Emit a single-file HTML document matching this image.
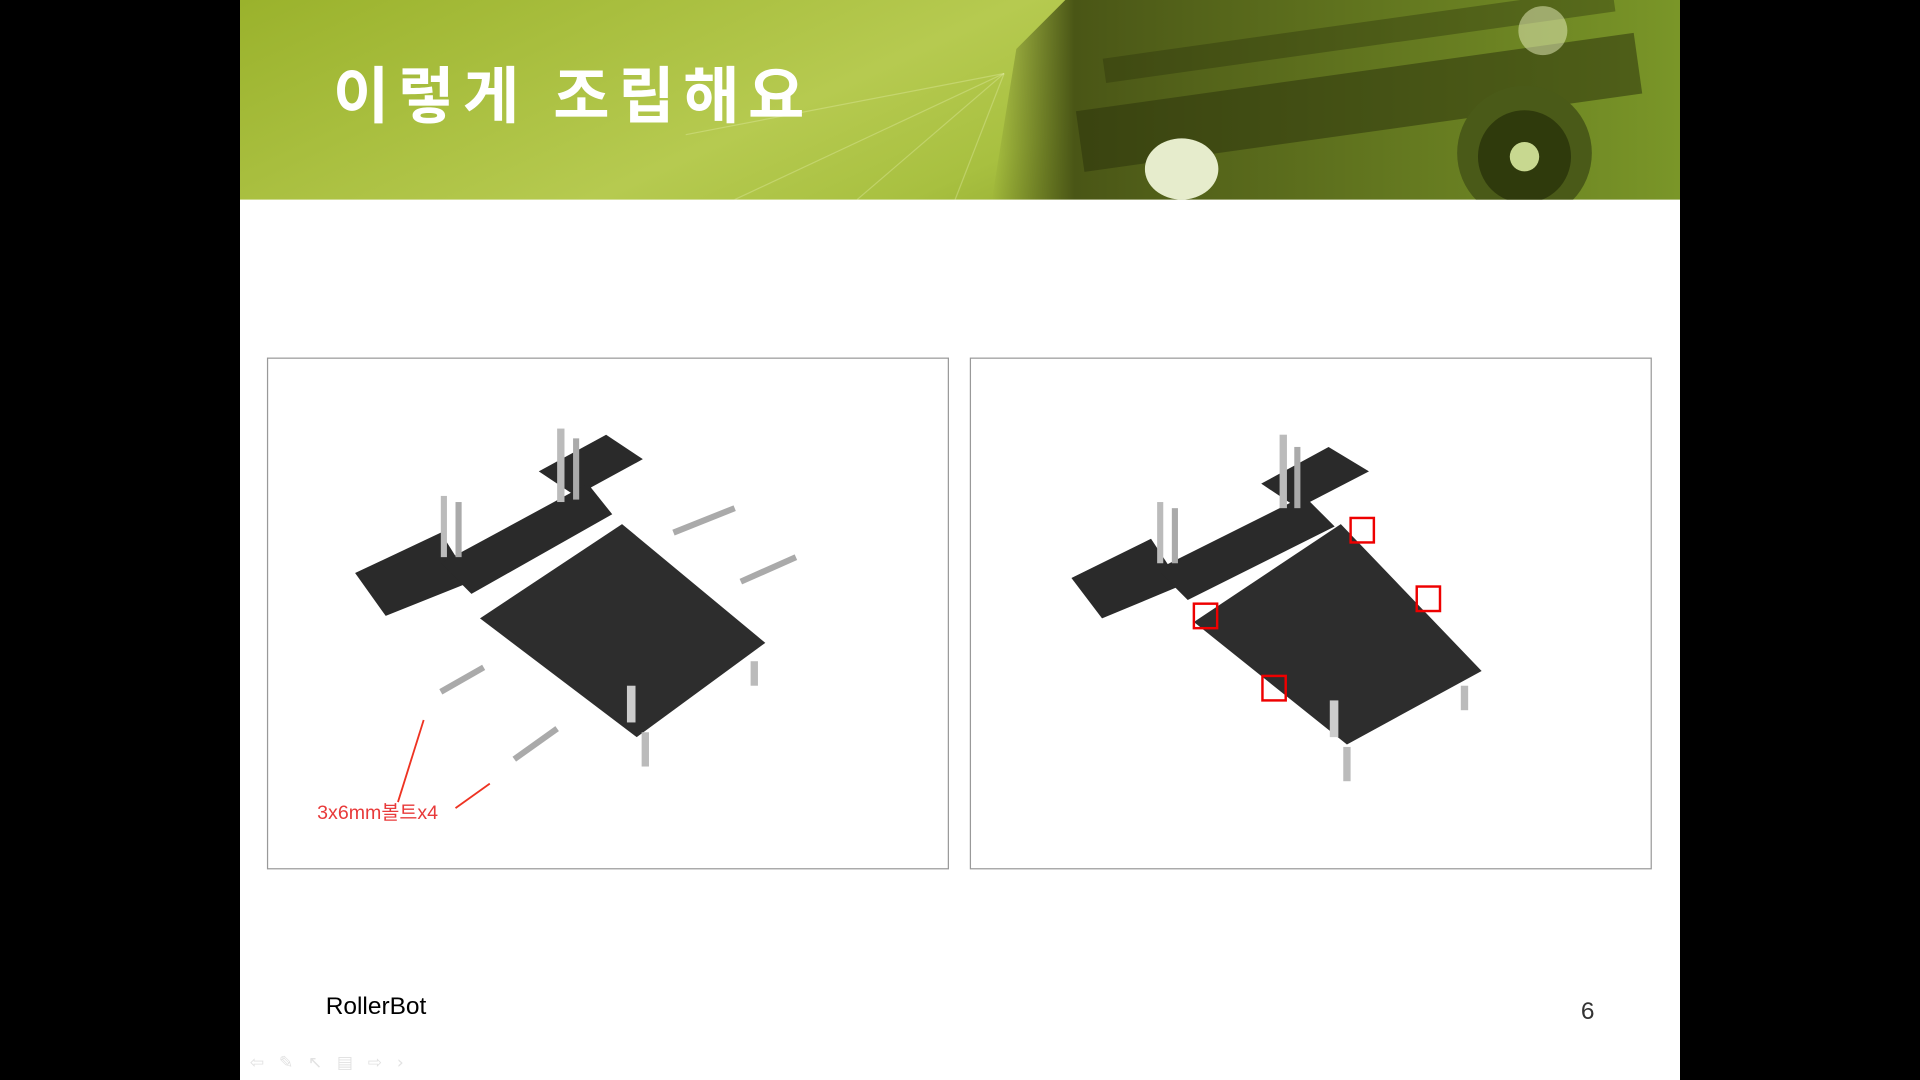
<!DOCTYPE html>
<html><head><meta charset="utf-8"><style>
html,body{margin:0;padding:0;background:#000;width:1920px;height:1080px;overflow:hidden}
svg{display:block}
</style></head><body>
<svg width="1920" height="1080" viewBox="0 0 1568 882" xmlns="http://www.w3.org/2000/svg">
<defs>
<linearGradient id="hg" x1="0" y1="0" x2="1" y2="0.3">
<stop offset="0" stop-color="#9ab22c"/><stop offset="0.5" stop-color="#b6ca50"/><stop offset="0.7" stop-color="#a8c040"/><stop offset="1" stop-color="#7d9420"/>
</linearGradient>
<linearGradient id="rg" x1="0" y1="0" x2="1" y2="0">
<stop offset="0" stop-color="#4a5514" stop-opacity="0"/><stop offset="0.12" stop-color="#4a5616"/><stop offset="1" stop-color="#7a9628"/>
</linearGradient>
<clipPath id="hc"><rect x="196" y="0" width="1176" height="163"/></clipPath>
</defs>
<rect x="196" y="0" width="1176" height="882" fill="#fff"/>
<rect x="196" y="0" width="1176" height="163" fill="url(#hg)"/>
<g stroke="#e8f0b0" stroke-opacity="0.35" stroke-width="1">
<line x1="820" y1="60" x2="600" y2="163"/><line x1="820" y1="60" x2="700" y2="163"/><line x1="820" y1="60" x2="780" y2="163"/><line x1="820" y1="60" x2="560" y2="110"/>
</g>
<g clip-path="url(#hc)">
<path d="M810 163 L830 40 L870 0 L1372 0 L1372 163 Z" fill="url(#rg)"/>
<rect x="880" y="60" width="460" height="50" fill="#2e350c" opacity="0.55" transform="rotate(-8 1100 85)"/>
<rect x="900" y="20" width="420" height="20" fill="#2e350c" opacity="0.4" transform="rotate(-8 1100 30)"/>
<circle cx="1245" cy="125" r="55" fill="#4a5a18"/>
<circle cx="1245" cy="128" r="38" fill="#2f3a0c"/>
<circle cx="1245" cy="128" r="12" fill="#c8d890"/>
<ellipse cx="965" cy="138" rx="30" ry="25" fill="#e6eccc"/>
<circle cx="1260" cy="25" r="20" fill="#e9f0c0" opacity="0.5"/>
</g>
<text x="272" y="96" font-family="'Liberation Sans','Noto Sans CJK KR',sans-serif" font-size="50" font-weight="bold" fill="#fff" letter-spacing="7">이렇게 조립해요</text>

<rect x="218.5" y="292.5" width="556" height="417" fill="#fff" stroke="#999" stroke-width="1"/>
<rect x="792.5" y="292.5" width="556" height="417" fill="#fff" stroke="#999" stroke-width="1"/>

<g>
<polygon points="290,468 360,435 385,475 315,503" fill="#2a2a2a"/>
<polygon points="440,385 495,355 525,375 470,405" fill="#2a2a2a"/>
<polygon points="360,460 480,395 500,420 385,485" fill="#2a2a2a"/>
<polygon points="392,505 508,428 625,525 520,602" fill="#2d2d2d"/>
<rect x="455" y="350" width="6" height="60" fill="#bbb"/><rect x="468" y="358" width="5" height="50" fill="#aaa"/>
<rect x="360" y="405" width="5" height="50" fill="#bbb"/><rect x="372" y="410" width="5" height="45" fill="#aaa"/>
<rect x="512" y="560" width="7" height="30" fill="#ccc"/><rect x="524" y="598" width="6" height="28" fill="#bbb"/>
<rect x="613" y="540" width="6" height="20" fill="#bbb"/>
<path d="M550 435 l50 -20 M605 475 l45 -20 M360 565 l35 -20 M420 620 l35 -25" stroke="#aaa" stroke-width="5"/>
<line x1="346" y1="588" x2="325" y2="655" stroke="#e32" stroke-width="1.5"/>
<line x1="400" y1="640" x2="372" y2="660" stroke="#e32" stroke-width="1.5"/>
<text x="259" y="669" font-family="'Liberation Sans','Noto Sans CJK KR',sans-serif" font-size="16" fill="#e83a3a">3x6mm볼트x4</text>
</g>
<g>
<polygon points="875,472 940,440 965,478 900,505" fill="#2a2a2a"/>
<polygon points="1030,395 1085,365 1118,385 1060,415" fill="#2a2a2a"/>
<polygon points="945,465 1065,405 1090,430 970,490" fill="#2a2a2a"/>
<polygon points="975,508 1095,428 1210,548 1100,608" fill="#2d2d2d"/>
<rect x="1045" y="355" width="6" height="60" fill="#bbb"/><rect x="1057" y="365" width="5" height="50" fill="#aaa"/>
<rect x="945" y="410" width="5" height="50" fill="#bbb"/><rect x="957" y="415" width="5" height="45" fill="#aaa"/>
<rect x="1086" y="572" width="7" height="30" fill="#ccc"/><rect x="1097" y="610" width="6" height="28" fill="#bbb"/>
<rect x="1193" y="560" width="6" height="20" fill="#bbb"/>
<g fill="none" stroke="#e00" stroke-width="2">
<rect x="1103" y="423" width="19" height="20"/><rect x="1157" y="479" width="19" height="20"/>
<rect x="975" y="493" width="19" height="20"/><rect x="1031" y="552" width="19" height="20"/>
</g>
</g>

<text x="266" y="828" font-family="'Liberation Sans',sans-serif" font-size="20" fill="#000">RollerBot</text>
<text x="1291" y="832" font-family="'Liberation Sans',sans-serif" font-size="20" fill="#333">6</text>
<text x="204" y="872" font-family="'DejaVu Sans',sans-serif" font-size="14" fill="#e2e2e2" letter-spacing="12">⇦✎↖▤⇨›</text>
</svg>
</body></html>
